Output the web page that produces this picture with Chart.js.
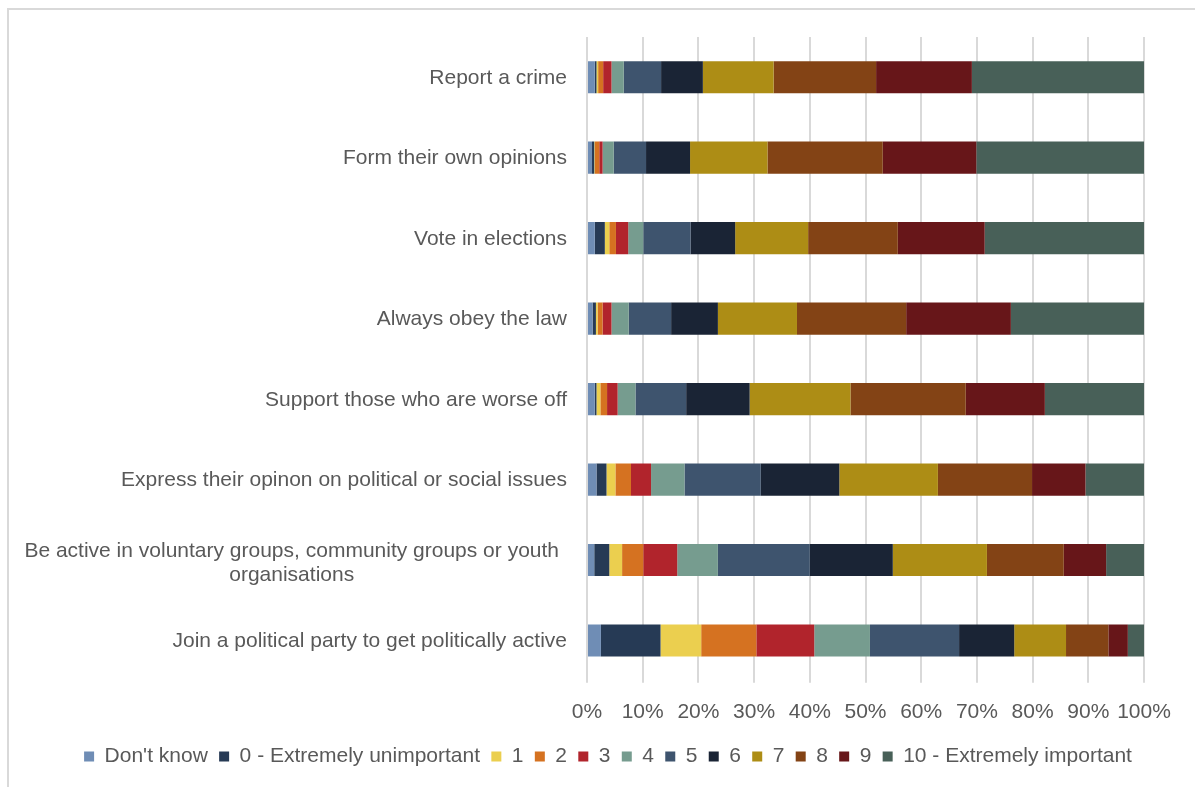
<!DOCTYPE html>
<html>
<head>
<meta charset="utf-8">
<script src="https://cdn.jsdelivr.net/npm/chart.js@4.4.1/dist/chart.umd.min.js"></script>
<style>
    html, body { margin: 0; padding: 0; background: #ffffff; overflow: hidden; }
    #frame {
        position: absolute; left: 7px; top: 8px; width: 1200px; height: 800px;
        border: 2px solid #d9d9d9; box-sizing: border-box;
    }
    #wrap { position: absolute; left: 0; top: 0; width: 1195px; height: 787px; }
</style>
</head>
<body>
<div id="frame"></div>
<div id="wrap"><canvas id="chart" width="1195" height="787"></canvas></div>
<script>
const categories = [
    'Report a crime',
    'Form their own opinions',
    'Vote in elections',
    'Always obey the law',
    'Support those who are worse off',
    'Express their opinon on political or social issues',
    ['Be active in voluntary groups, community groups or youth', 'organisations'],
    'Join a political party to get politically active'
];

const seriesNames = [
    "Don't know", '0 - Extremely unimportant', '1', '2', '3', '4',
    '5', '6', '7', '8', '9', '10 - Extremely important'
];

// percentages, one value per category (top to bottom)
const dontKnow = [1.4, 0.9, 1.4, 1.0, 1.4, 1.7, 1.3, 2.5];
const score0   = [0.3, 0.4, 1.8, 0.6, 0.3, 1.8, 2.7, 10.7];
const score1   = [0.3, 0.1, 0.8, 0.3, 0.7, 1.6, 2.3, 7.3];
const score2   = [0.9, 0.8, 1.2, 0.9, 1.2, 2.8, 3.8, 9.9];
const score3   = [1.5, 0.6, 2.2, 1.6, 1.9, 3.6, 6.1, 10.4];
const score4   = [2.2, 2.0, 2.7, 3.1, 3.2, 6.0, 7.3, 10.0];
const score5   = [6.7, 5.8, 8.5, 7.6, 9.1, 13.7, 16.5, 16.0];
const score6   = [7.5, 7.9, 8.0, 8.4, 11.4, 14.1, 14.9, 9.9];
const score7   = [12.7, 13.9, 13.1, 14.2, 18.1, 17.7, 16.9, 9.3];
const score8   = [18.4, 20.7, 16.1, 19.6, 20.7, 16.9, 13.8, 7.6];
const score9   = [17.2, 16.8, 15.6, 18.8, 14.2, 9.6, 7.6, 3.5];
const score10  = [30.9, 30.1, 28.6, 23.9, 17.8, 10.5, 6.8, 2.9];

const xTicks = [0, 10, 20, 30, 40, 50, 60, 70, 80, 90, 100];

const seriesValues = [dontKnow, score0, score1, score2, score3, score4,
                      score5, score6, score7, score8, score9, score10];

const colors = [
    '#6f8db5', '#263a55', '#ebcf4f', '#d57221', '#b1242c', '#769c8f',
    '#3e546e', '#1a2435', '#ad8d15', '#834315', '#671619', '#486058'
];

const fontFamily = '"Liberation Sans", Arial, sans-serif';
const textColor = '#595959';
const labelSize = 21;

Chart.defaults.font.family = fontFamily;
Chart.defaults.color = textColor;

// y labels drawn by hand so wrapped lines can be centred as a block
const yLabelPlugin = {
    id: 'yLabels',
    afterDraw(chart) {
        const scale = chart.scales.y;
        const ctx = chart.ctx;
        const right = chart.chartArea.left - 20;
        const lineHeight = 24;
        ctx.save();
        ctx.font = labelSize + 'px ' + fontFamily;
        ctx.fillStyle = textColor;
        ctx.textBaseline = 'middle';
        categories.forEach((label, i) => {
            const lines = Array.isArray(label) ? label : [label];
            const multi = lines.length > 1;
            const y = scale.getPixelForTick(i) + (multi ? 3 : 1);
            const widths = lines.map(l => ctx.measureText(l).width);
            const blockW = Math.max(...widths);
            const top = y - (lines.length - 1) * lineHeight / 2;
            lines.forEach((l, j) => {
                if (multi) {
                    ctx.textAlign = 'center';
                    ctx.fillText(l, right - 8 - blockW / 2, top + j * lineHeight);
                } else {
                    ctx.textAlign = 'right';
                    ctx.fillText(l, right, top);
                }
            });
        });
        ctx.restore();
    }
};

const ctx = document.getElementById('chart').getContext('2d');

new Chart(ctx, {
    type: 'bar',
    data: {
        labels: categories,
        datasets: seriesNames.map((name, i) => ({
            label: name,
            data: seriesValues[i],
            backgroundColor: colors[i],
            borderWidth: 0,
            categoryPercentage: 0.8,
            barPercentage: 0.5
        }))
    },
    options: {
        indexAxis: 'y',
        responsive: false,
        animation: false,
        layout: {
            padding: { left: 21, right: 0, top: 37, bottom: 10 }
        },
        plugins: {
            legend: {
                position: 'bottom',
                labels: {
                    boxWidth: 10,
                    boxHeight: 10,
                    padding: 11.3,
                    color: textColor,
                    font: { size: labelSize }
                }
            },
            tooltip: { enabled: false }
        },
        scales: {
            x: {
                stacked: true,
                min: 0,
                max: 100,
                afterBuildTicks: (scale) => {
                    scale.ticks = xTicks.map(v => ({ value: v }));
                },
                grid: {
                    color: '#d9d9d9',
                    lineWidth: 2,
                    drawTicks: true,
                    tickLength: 2
                },
                border: { display: false },
                ticks: {
                    padding: 17,
                    maxRotation: 0,
                    autoSkip: false,
                    font: { size: labelSize },
                    color: textColor,
                    callback: (v) => v + '%'
                },
                afterFit: (scale) => { scale.height = 54; }
            },
            y: {
                stacked: true,
                grid: { display: false },
                border: { display: false },
                ticks: { display: false },
                afterFit: (scale) => { scale.width = 566; }
            },
            // empty spacer on the right so the legend sits centred like the original
            spacer: {
                type: 'category',
                labels: [''],
                position: 'right',
                grid: { display: false },
                border: { display: false },
                ticks: { display: false },
                afterFit: (scale) => { scale.width = 51; }
            }
        }
    },
    plugins: [yLabelPlugin]
});
</script>
</body>
</html>
